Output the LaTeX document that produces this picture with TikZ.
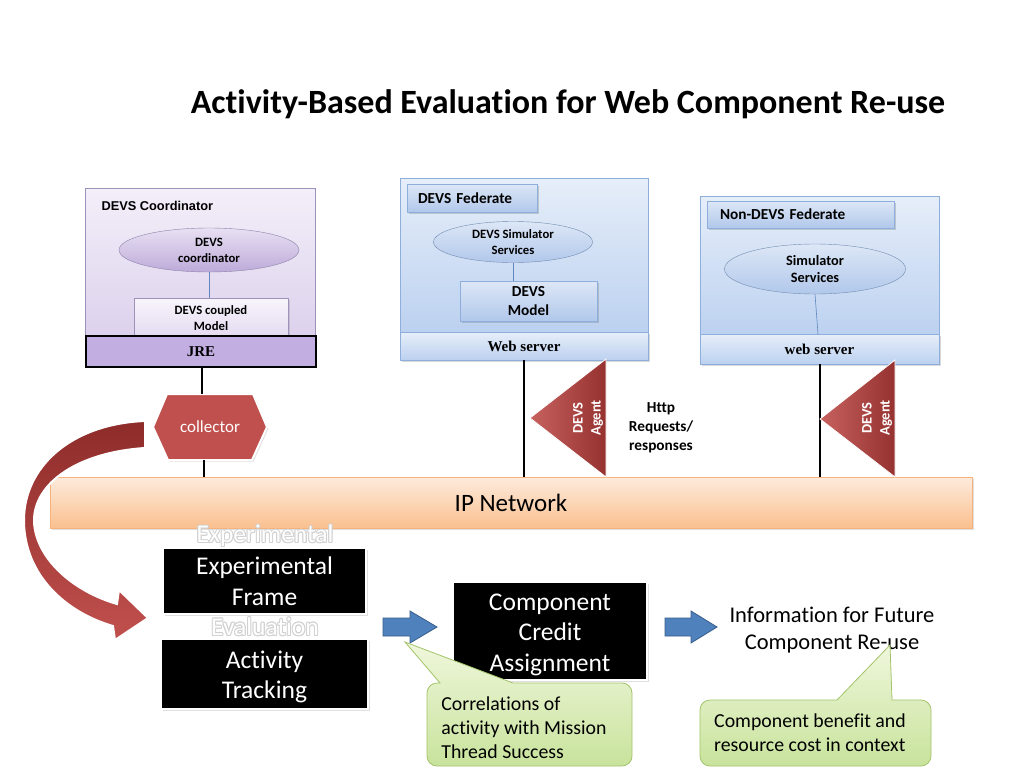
\documentclass[tikz,border=0pt]{standalone}
\usepackage{fontspec}
\setmainfont{Carlito}[Ligatures=NoCommon]
\newfontfamily\arialf{Liberation Sans}
\newfontfamily\timesf{Liberation Serif}
\usetikzlibrary{shapes.geometric,shadows,calc}
\definecolor{lavTop}{HTML}{F3EFF9}
\definecolor{lavBot}{HTML}{DCD0EC}
\definecolor{lavBorder}{HTML}{9C92BC}
\definecolor{ellLavTop}{HTML}{E8E0F3}
\definecolor{ellLavBot}{HTML}{BDAAD9}
\definecolor{jreFill}{HTML}{C3AEE2}
\definecolor{bluTop}{HTML}{E6EEF9}
\definecolor{bluBot}{HTML}{BCD1F0}
\definecolor{bluBorder}{HTML}{8EAFDC}
\definecolor{lblTop}{HTML}{DDE7F6}
\definecolor{lblBot}{HTML}{B1C8EB}
\definecolor{ipTop}{HTML}{FDEBDD}
\definecolor{ipBot}{HTML}{FAC08F}
\definecolor{ipBorder}{HTML}{F6B27A}
\definecolor{redMain}{HTML}{C0504D}
\definecolor{redDark}{HTML}{8E2C2A}
\definecolor{arrBlue}{HTML}{4F81BD}
\definecolor{arrBlueB}{HTML}{385D8A}
\definecolor{grnTop}{HTML}{F0F7DC}
\definecolor{grnBot}{HTML}{C8E39C}
\definecolor{grnBorder}{HTML}{A3C36A}
\definecolor{linkBlue}{HTML}{5F86BE}
\begin{document}
\begin{tikzpicture}[x=1pt,y=-1pt,
  box/.style={rectangle,inner sep=0pt,align=center},
  lavbox/.style={box,draw=lavBorder,top color=lavTop,bottom color=lavBot},
  blubox/.style={box,draw=bluBorder,top color=bluTop,bottom color=bluBot},
  lblbox/.style={box,draw=bluBorder,top color=lblTop,bottom color=lblBot,
     drop shadow={opacity=0.35,shadow xshift=1.5pt,shadow yshift=-1.5pt}},
  blackbox/.style={box,fill=black,draw=white,line width=1.2pt,
     drop shadow={opacity=0.25,shadow xshift=2pt,shadow yshift=-2pt}},
  blacktxt/.style={align=center,text=white,font=\fontsize{25.5}{30.5}\selectfont},
  smallbold/.style={font=\fontsize{12.7}{16}\selectfont\bfseries},
  medbold/.style={font=\fontsize{15.3}{18.5}\selectfont\bfseries},
  servtxt/.style={font=\timesf\fontsize{15}{17}\selectfont\bfseries},
  wire/.style={line width=2.6pt,black},
  link/.style={linkBlue,line width=0.6pt},
  agent/.style={draw=white,line width=0.8pt,left color=redMain!90!white,right color=redDark!85!redMain},
  agenttxt/.style={text=white,rotate=90,align=center,font=\fontsize{14.5}{18}\selectfont\bfseries},
  blockarrow/.style={fill=arrBlue,draw=arrBlueB,line width=0.8pt},
  callout/.style={draw=grnBorder,line width=0.8pt,top color=grnTop,bottom color=grnBot},
  calltxt/.style={align=left,font=\fontsize{19.8}{24}\selectfont},
  ghost/.style={font=\fontsize{25.5}{28}\selectfont},
]
\useasboundingbox (0,0) rectangle (1024,768);
\fill[white] (0,0) rectangle (1024,768);

% title
\node[font=\fontsize{34}{40}\selectfont\bfseries] (title) at (568,104) {Activity-Based Evaluation for Web Component Re-use};

% ---------- DEVS Coordinator ----------
\node[lavbox,minimum width=230pt,minimum height=152pt] (coordbox) at (200,264) {};
\node[anchor=west,font=\arialf\fontsize{12.8}{15}\selectfont\bfseries] (coordlbl) at (98,206) {DEVS Coordinator};
\node[ellipse,draw=lavBorder!90!black,top color=ellLavTop,bottom color=ellLavBot,
      minimum width=180pt,minimum height=44pt,inner sep=0pt,align=center,smallbold] (coordell) at (209,250) {DEVS\\coordinator};
\node[box,draw=lavBorder,top color=lavTop!60!white,bottom color=lavBot!80!white,
      minimum width=154pt,minimum height=40pt,smallbold,
      drop shadow={opacity=0.25,shadow xshift=1.5pt,shadow yshift=-1.5pt}] (coupled) at (211,318) {DEVS coupled\\Model};
\draw[link] (coordell.south) -- (coordell.south |- coupled.north);
\node[box,draw=black,line width=2.5pt,fill=jreFill,minimum width=230pt,minimum height=31pt,servtxt] (jre) at (201,351.5) {JRE};

% ---------- collector ----------
\node[box,minimum width=110pt,minimum height=66pt] (col) at (210,427) {};
\draw[white,line width=2pt,fill=redMain,drop shadow={opacity=0.25,shadow xshift=1.5pt,shadow yshift=-1.5pt}]
  (153,427) -- (167,394) -- (253,394) -- (267,427) -- (252,460) -- (168,460) -- cycle;
\node[text=white,font=\fontsize{17}{20}\selectfont] (coltxt) at (col.center) {collector};
\draw[wire] (jre.south -| 202,0) -- (202,394);
\draw[wire] (204,460) -- (204,477);

% ---------- DEVS Federate ----------
\node[blubox,minimum width=248pt,minimum height=154pt] (fedbox) at (524,255) {};
\node[blubox,minimum width=248pt,minimum height=28pt,servtxt,
      drop shadow={opacity=0.3,shadow xshift=1.5pt,shadow yshift=-1.5pt}] (web1) at (524,346) {Web server};
\node[lblbox,minimum width=130pt,minimum height=28pt,medbold,text width=108pt,align=left] (fedlbl) at (472,198) {DEVS Federate};
\node[ellipse,draw=bluBorder!80!black,top color=lblTop,bottom color=lblBot,
      minimum width=159pt,minimum height=41pt,inner sep=0pt,align=center,smallbold] (simserv1) at (513,242) {DEVS Simulator\\Services};
\node[lblbox,minimum width=137pt,minimum height=40pt,medbold] (devsmodel) at (528.5,301) {DEVS\\Model};
\draw[link] (simserv1.south) -- (simserv1.south |- devsmodel.north);

% ---------- Non-DEVS Federate ----------
\node[blubox,minimum width=239pt,minimum height=140pt] (nfedbox) at (819.5,266) {};
\node[blubox,minimum width=239pt,minimum height=30pt,servtxt,
      drop shadow={opacity=0.3,shadow xshift=1.5pt,shadow yshift=-1.5pt}] (web2) at (819.5,349) {web server};
\node[lblbox,minimum width=187pt,minimum height=27pt,medbold,text width=161pt,align=left] (nfedlbl) at (800.5,214.5) {Non-DEVS Federate};
\node[ellipse,draw=bluBorder!80!black,top color=lblTop,bottom color=lblBot,
      minimum width=181pt,minimum height=50pt,inner sep=0pt,align=center,font=\fontsize{14.3}{17.5}\selectfont\bfseries] (simserv2) at (815,269) {Simulator\\Services};
\draw[link] (simserv2.south) -- (818,334);

% ---------- IP network ----------
\node[box,draw=ipBorder,top color=ipTop,bottom color=ipBot,minimum width=922pt,minimum height=51pt,
      font=\fontsize{25}{28}\selectfont,
      drop shadow={opacity=0.25,shadow xshift=1.5pt,shadow yshift=-2pt}] (ip) at (511,502.5) {IP Network};

\draw[wire] (web1.south) -- (web1.south |- ip.north);
\draw[wire] (820,364) -- (820,477);

% ---------- agents ----------
\draw[agent] (606,359) -- (530,418) -- (606,477) -- cycle;
\node[agenttxt] (agent1) at (588,418) {DEVS\\Agent};
\draw[agent] (895,360) -- (820,419) -- (895,477) -- cycle;
\node[agenttxt] (agent2) at (877,418) {DEVS\\Agent};
\node[align=center,font=\fontsize{15.3}{19}\selectfont\bfseries] (http) at (661,428) {Http\\Requests/\\responses};

% ---------- curved arrow ----------
\draw[white,line width=2pt,top color=redDark,bottom color=redMain,shading angle=0]
  (145,421) .. controls (70,424) and (23,468) .. (24,522)
  .. controls (25,575) and (65,612) .. (113,626)
  -- (115,640) -- (148,618) -- (119,590) -- (117,604)
  .. controls (75,592) and (36,560) .. (34,522)
  .. controls (33,482) and (80,452) .. (145,448) -- cycle;

% ---------- ghost labels ----------
\foreach \dx/\dy in {-1/0,1/0,0/-1,0/1,-0.8/-0.8,0.8/0.8,-0.8/0.8,0.8/-0.8}{
  \node[text=black!18,ghost] at ($(265,536)+(\dx,\dy)$) {Experimental};
  \node[text=black!18,ghost] at ($(265,627)+(\dx,\dy)$) {Evaluation};
}
\node[text=white,ghost] (ghost1) at (265,536) {Experimental};
\node[text=white,ghost] (ghost2) at (265,627) {Evaluation};

% ---------- black boxes ----------
\node[blackbox,minimum width=203pt,minimum height=66pt] (ef) at (264.5,581) {};
\node[blacktxt] (eftxt) at (ef.center) {Experimental\\Frame};
\node[blackbox,minimum width=207pt,minimum height=70pt] (at) at (264.5,674) {};
\node[blacktxt] (attxt) at ($(at.center)+(0,3)$) {Activity\\Tracking};
\node[blackbox,minimum width=194pt,minimum height=98pt] (cca) at (550,631) {};
\node[blacktxt] (ccatxt) at ($(cca.center)+(0,3.5)$) {Component\\Credit\\Assignment};

% ---------- block arrows ----------
\draw[blockarrow] (383,618) -- (410,618) -- (410,611) -- (437,627) -- (410,643) -- (410,636) -- (383,636) -- cycle;
\draw[blockarrow] (665,618) -- (691,618) -- (691,611) -- (717,627) -- (691,643) -- (691,636) -- (665,636) -- cycle;

\node[align=center,font=\fontsize{22.5}{27}\selectfont] (info) at (832,630.5) {Information for Future\\Component Re-use};

% ---------- callouts ----------
\draw[callout] (440,683) -- (405,642) -- (513,683) [rounded corners=10pt] -- (632,683) -- (632,766) -- (427,766) -- (427,683) [sharp corners] -- cycle;
\node[calltxt] (call1) at (524,728) {Correlations of\\activity with Mission\\Thread Success};
\draw[callout] (837,700) -- (890,645) -- (892,700) [rounded corners=10pt] -- (931,700) -- (931,766) -- (700,766) -- (700,700) [sharp corners] -- cycle;
\node[calltxt] (call2) at (810,732.5) {Component benefit and\\resource cost in context};
\end{tikzpicture}
\end{document}
